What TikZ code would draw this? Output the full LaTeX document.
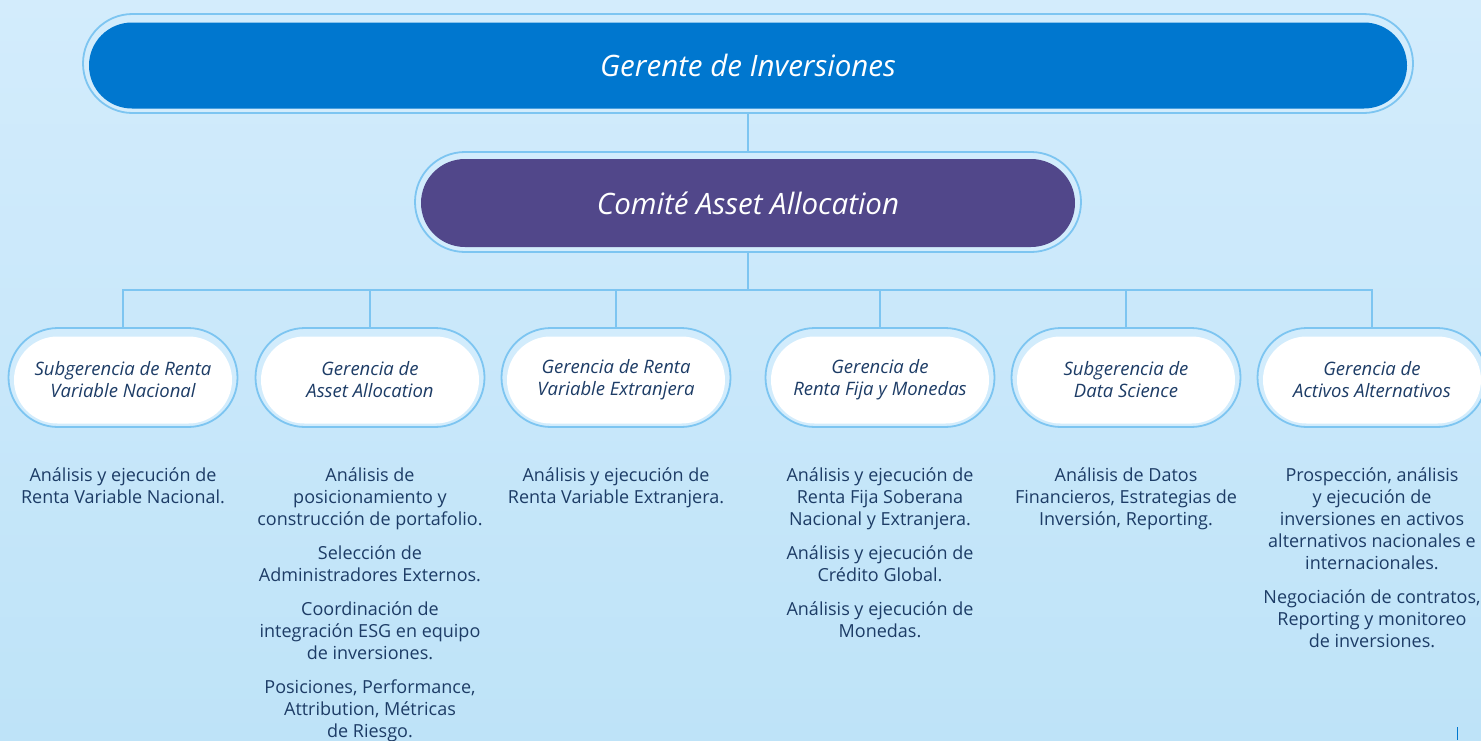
\documentclass[tikz,border=0pt]{standalone}
\usepackage{fontspec}
\setmainfont{Open Sans}
\usetikzlibrary{shapes.misc}
\definecolor{bgtop}{HTML}{D3ECFC}
\definecolor{bgbot}{HTML}{BEE3F8}
\definecolor{rim}{HTML}{7DC5F1}
\definecolor{gapc}{HTML}{D2ECFC}
\definecolor{royal}{HTML}{0077CF}
\definecolor{comite}{HTML}{51478A}
\definecolor{navy}{HTML}{1D3C66}
\tikzset{
  outerpill/.style={rounded rectangle, draw=rim, line width=1.8pt, fill=gapc, inner sep=0pt},
  innerpill/.style={rounded rectangle, inner sep=0pt, align=center},
  subtext/.style={font=\fontsize{18.5}{22}\selectfont\itshape, text=navy},
  link/.style={draw=rim, line width=2pt},
  desc/.style={anchor=north, align=center, text=navy, inner sep=0pt, font=\fontsize{18}{22}\selectfont}
}
\begin{document}
\begin{tikzpicture}[x=1pt,y=-1pt]
\shade[top color=bgtop,bottom color=bgbot] (0,0) rectangle (1481,740);
\useasboundingbox (0,0) rectangle (1481,740);
\clip (0,0) rectangle (1481,740);

% top
\node[outerpill, minimum width=1330pt, minimum height=99pt] (gO) at (748,63.5) {};
\node[innerpill, fill=royal, minimum width=1318pt, minimum height=86pt, text=white, font=\fontsize{29.5}{34}\selectfont\itshape] (g) at (748,65.5) {Gerente de Inversiones};

% comite
\node[outerpill, minimum width=666pt, minimum height=100pt] (cO) at (748,202) {};
\node[innerpill, fill=comite, minimum width=654pt, minimum height=88pt, text=white, font=\fontsize{29.5}{34}\selectfont\itshape] (c) at (748,203) {Comité Asset Allocation};

\draw[link] (gO.south) -- (cO.north);
\coordinate (bus) at (748,291);
\draw[link] (cO.south) -- (bus);

% sub nodes
\foreach \n/\x/\t in {
  s1/123/{Subgerencia de Renta\\Variable Nacional},
  s2/370/{Gerencia de\\Asset Allocation},
  s3/616/{Gerencia de Renta\\Variable Extranjera},
  s4/880/{Gerencia de\\Renta Fija y Monedas},
  s5/1126/{Subgerencia de\\Data Science},
  s6/1372/{Gerencia de\\Activos Alternativos}}{
  \node[outerpill, minimum width=229pt, minimum height=99pt] (\n) at (\x,377.5) {};
  \node[innerpill, fill=white, minimum width=218pt, minimum height=87pt, subtext] (\n i) at (\x,380) {\t};
}
\draw[link] (s1.north) -- ++(0,-37) -| (s6.north);
\foreach \n in {s2,s3,s4,s5}{
  \draw[link] (\n.north) -- (\n.north |- bus);
}

% descriptions
\node[desc] (d1) at (123,467) {Análisis y ejecución de\\Renta Variable Nacional.};
\node[desc] (d2) at (370,467) {Análisis de\\posicionamiento y\\construcción de portafolio.\\[12pt]Selección de\\Administradores Externos.\\[12pt]Coordinación de\\integración ESG en equipo\\de inversiones.\\[12pt]Posiciones, Performance,\\Attribution, Métricas\\de Riesgo.};
\node[desc] (d3) at (616,467) {Análisis y ejecución de\\Renta Variable Extranjera.};
\node[desc] (d4) at (880,467) {Análisis y ejecución de\\Renta Fija Soberana\\Nacional y Extranjera.\\[12pt]Análisis y ejecución de\\Crédito Global.\\[12pt]Análisis y ejecución de\\Monedas.};
\node[desc] (d5) at (1126,467) {Análisis de Datos\\Financieros, Estrategias de\\Inversión, Reporting.};
\node[desc] (d6) at (1372,467) {Prospección, análisis\\y ejecución de\\inversiones en activos\\alternativos nacionales e\\internacionales.\\[12pt]Negociación de contratos,\\Reporting y monitoreo\\de inversiones.};

% small mark bottom right
\coordinate (m1) at (1457.5,727);
\coordinate (m2) at (1457.5,740);
\draw[royal, line width=1.5pt] (m1) -- (m2);
\end{tikzpicture}
\end{document}
